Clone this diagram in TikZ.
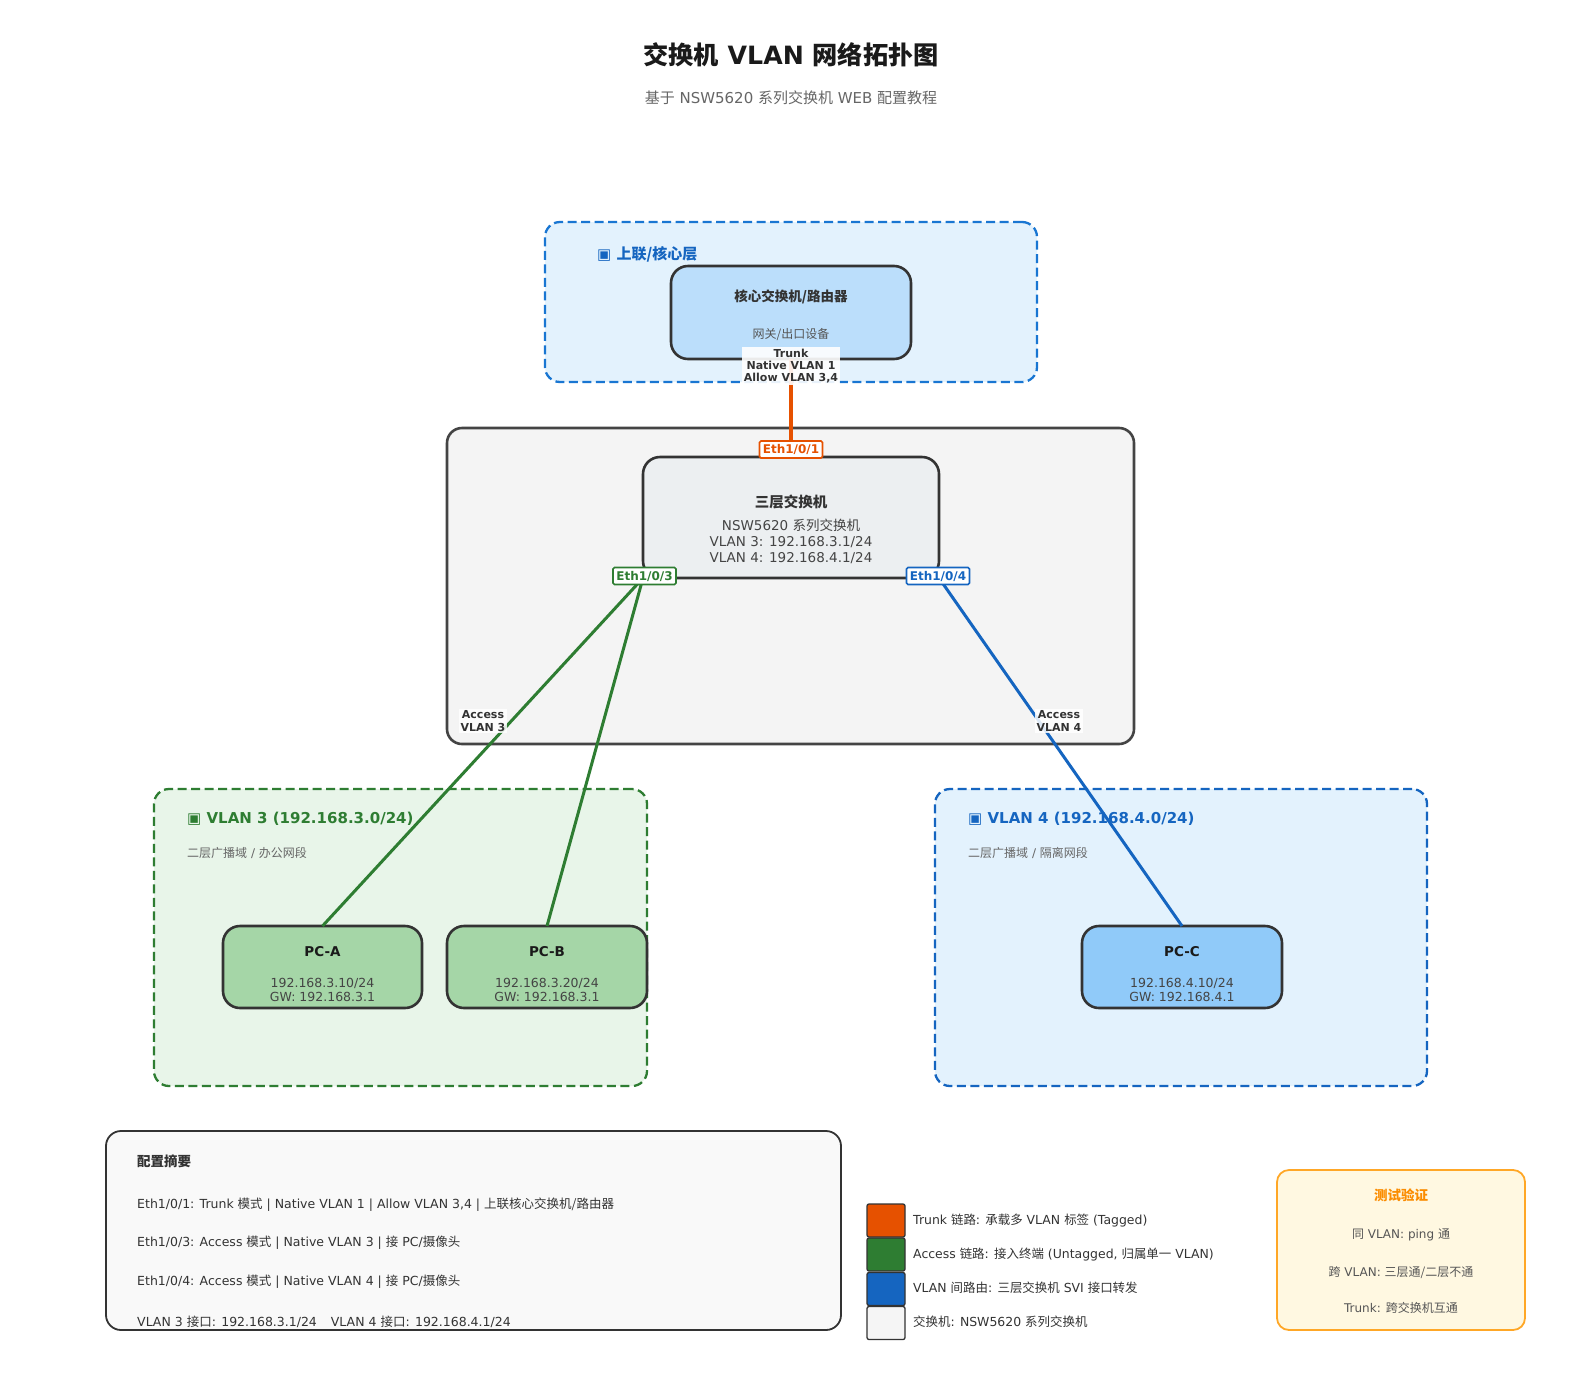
\documentclass[tikz,border=0pt]{standalone}
\usepackage{fontspec}
\setmainfont{DejaVu Sans}
\newfontfamily\cjk{Noto Sans CJK SC}
\newcommand\zh[1]{{\cjk #1}}
\newcommand\fs[2]{\fontsize{#1}{#2}\selectfont}
\definecolor{trunkc}{HTML}{E65100}
\definecolor{accc}{HTML}{2E7D32}
\definecolor{vlfour}{HTML}{1565C0}
\definecolor{uplc}{HTML}{1976D2}
\definecolor{upfill}{HTML}{E3F2FD}
\definecolor{corefill}{HTML}{BBDEFB}
\definecolor{grpfill}{HTML}{F4F4F4}
\definecolor{grpedge}{HTML}{444444}
\definecolor{swfill}{HTML}{ECEFF1}
\definecolor{vthreefill}{HTML}{E8F5E9}
\definecolor{pcgreen}{HTML}{A5D6A7}
\definecolor{pcblue}{HTML}{90CAF9}
\definecolor{sumfill}{HTML}{F9F9F9}
\definecolor{testfill}{HTML}{FFF8E1}
\definecolor{testedge}{HTML}{FFA726}
\definecolor{testtitle}{HTML}{FB8C00}
\definecolor{darkc}{HTML}{333333}
\definecolor{txtc}{HTML}{444444}
\definecolor{grayc}{HTML}{666666}
\definecolor{midgray}{HTML}{555555}
\definecolor{titlec}{HTML}{1A1A1A}
\definecolor{legwhite}{HTML}{F5F5F5}
\begin{document}
\begin{tikzpicture}[x=1pt,y=-1pt,
  devbox/.style={draw=darkc, line width=2.6pt, rounded corners=17pt, inner sep=0pt, outer sep=0pt},
  grpbox/.style={line width=2.3pt, dash pattern=on 9pt off 4.5pt, rounded corners=15pt, inner sep=0pt, outer sep=0pt},
  portlbl/.style={draw, line width=1.6pt, fill=white, font=\bfseries\fs{12}{13}, inner sep=0pt, minimum width=63pt, minimum height=17pt, rounded corners=1.5pt},
  acclbl/.style={fill=white, fill opacity=0.85, text opacity=1, text=darkc, font=\bfseries\fs{11}{12.5}, align=center, inner sep=1.5pt},
  lnk/.style={line width=3pt},
  legsq/.style={draw=darkc, line width=1.3pt, minimum width=38pt, minimum height=33pt, inner sep=0pt, rounded corners=2pt},
  legtxt/.style={anchor=west, text=darkc, font=\fs{12.45}{14}, inner sep=0pt},
  sumtxt/.style={anchor=west, text=darkc, font=\fs{12.5}{14}, inner sep=0pt},
  testtxt/.style={text=midgray, font=\fs{12}{14}, inner sep=0pt}]
\useasboundingbox (0,0) rectangle (1582,1387);
\fill[white] (0,0) rectangle (1582,1387);

% title
\node[text=titlec, font=\bfseries\fs{25.2}{30}] (title) at (791,55) {\zh{交换机} VLAN \zh{网络拓扑图}};
\node[text=grayc, font=\fs{15}{18}] (subtitle) at (791,98) {\zh{基于} NSW5620 \zh{系列交换机} WEB \zh{配置教程}};

% group boxes
\node[grpbox, draw=uplc, fill=upfill, minimum width=492pt, minimum height=160pt] (uplink) at (791,302) {};
\node[draw=grpedge, fill=grpfill, line width=2.6pt, rounded corners=15pt, minimum width=687pt, minimum height=316pt, inner sep=0pt] (swgroup) at (790.5,586) {};
\node[grpbox, draw=accc, fill=vthreefill, minimum width=493pt, minimum height=297pt] (vlan3) at (400.5,937.5) {};
\node[grpbox, draw=vlfour, fill=upfill, minimum width=492pt, minimum height=297pt] (vlan4) at (1181,937.5) {};

% group titles
\node[anchor=west, text=vlfour, font=\bfseries\fs{15}{18}, inner sep=0pt] (uplbl) at (597,254) {▣ \zh{上联/核心层}};
\node[anchor=west, text=accc, font=\bfseries\fs{15}{18}, inner sep=0pt] (v3lbl) at (187,819) {▣ VLAN 3 (192.168.3.0/24)};
\node[anchor=west, text=grayc, font=\fs{12}{14}, inner sep=0pt] (v3sub) at (187,853) {\zh{二层广播域} / \zh{办公网段}};
\node[anchor=west, text=vlfour, font=\bfseries\fs{15}{18}, inner sep=0pt] (v4lbl) at (968,819) {▣ VLAN 4 (192.168.4.0/24)};
\node[anchor=west, text=grayc, font=\fs{12}{14}, inner sep=0pt] (v4sub) at (968,853) {\zh{二层广播域} / \zh{隔离网段}};

% devices
\node[devbox, fill=corefill, minimum width=240pt, minimum height=93pt] (core) at (791,312.5) {};
\node[font=\bfseries\fs{13.5}{16}, text=darkc] (coret) at (791,297) {\zh{核心交换机/路由器}};
\node[font=\fs{12}{14}, text=midgray] (cores) at (791,335) {\zh{网关/出口设备}};

\node[devbox, fill=swfill, minimum width=296pt, minimum height=121pt] (sw) at (791,517.5) {};
\node[font=\bfseries\fs{14.5}{17}, text=darkc] (swt) at (791,501.5) {\zh{三层交换机}};
\node[font=\fs{13.5}{16}, text=txtc] (sws1) at (791,525) {NSW5620 \zh{系列交换机}};
\node[font=\fs{13.5}{16}, text=txtc] (sws2) at (791,542) {VLAN 3: 192.168.3.1/24};
\node[font=\fs{13.5}{16}, text=txtc] (sws3) at (791,558) {VLAN 4: 192.168.4.1/24};

\node[devbox, fill=pcgreen, minimum width=199pt, minimum height=82pt] (pca) at (322.5,967) {};
\node[font=\bfseries\fs{13.5}{16}, text=titlec] (pcat) at (322.5,952) {PC-A};
\node[font=\fs{12.5}{14}, text=txtc, align=center] (pcas) at (322.5,990) {192.168.3.10/24\\GW: 192.168.3.1};

\node[devbox, fill=pcgreen, minimum width=200pt, minimum height=82pt] (pcb) at (547,967) {};
\node[font=\bfseries\fs{13.5}{16}, text=titlec] (pcbt) at (547,952) {PC-B};
\node[font=\fs{12.5}{14}, text=txtc, align=center] (pcbs) at (547,990) {192.168.3.20/24\\GW: 192.168.3.1};

\node[devbox, fill=pcblue, minimum width=200pt, minimum height=82pt] (pcc) at (1182,967) {};
\node[font=\bfseries\fs{13.5}{16}, text=titlec] (pcct) at (1182,952) {PC-C};
\node[font=\fs{12.5}{14}, text=txtc, align=center] (pccs) at (1182,990) {192.168.4.10/24\\GW: 192.168.4.1};

% connectors
\draw[trunkc, line width=3.6pt] (core.south) -- (sw.north);
\draw[lnk, accc] (sw.south west) -- (pca.north);
\draw[lnk, accc] (sw.south west) -- (pcb.north);
\draw[lnk, vlfour] (sw.south east) -- (pcc.north);

% link labels
\node[fill=white, fill opacity=0.9, text opacity=1, text=darkc, font=\bfseries\fs{11}{11.6}, align=center, inner sep=2pt] (trunklbl) at (791,366) {Trunk\\Native VLAN 1\\Allow VLAN 3,4};
\node[portlbl, draw=trunkc, text=trunkc, fill=white] (p1) at (791,449.5) {Eth1/0/1};
\node[portlbl, draw=accc, text=accc] (p3) at (644.5,576) {Eth1/0/3};
\node[portlbl, draw=vlfour, text=vlfour] (p4) at (938,576) {Eth1/0/4};
\node[acclbl] (acc3) at (483,721) {Access\\VLAN 3};
\node[acclbl] (acc4) at (1059,721) {Access\\VLAN 4};

% summary
\node[draw=darkc, fill=sumfill, line width=1.8pt, rounded corners=15pt, minimum width=735pt, minimum height=199pt, inner sep=0pt] (summary) at (473.5,1230.5) {};
\node[anchor=west, text=darkc, font=\bfseries\fs{13.5}{16}, inner sep=0pt] (sumt) at (137,1161) {\zh{配置摘要}};
\node[sumtxt] (sum1) at (137,1205) {Eth1/0/1: Trunk \zh{模式} | Native VLAN 1 | Allow VLAN 3,4 | \zh{上联核心交换机/路由器}};
\node[sumtxt] (sum2) at (137,1243) {Eth1/0/3: Access \zh{模式} | Native VLAN 3 | \zh{接} PC/\zh{摄像头}};
\node[sumtxt] (sum3) at (137,1282) {Eth1/0/4: Access \zh{模式} | Native VLAN 4 | \zh{接} PC/\zh{摄像头}};
\node[sumtxt] (sum4) at (137,1322) {VLAN 3 \zh{接口}: 192.168.3.1/24\hspace{14pt}VLAN 4 \zh{接口}: 192.168.4.1/24};

% legend
\node[legsq, fill=trunkc] (lg1) at (886,1220.5) {};
\node[legsq, fill=accc] (lg2) at (886,1254.5) {};
\node[legsq, fill=vlfour] (lg3) at (886,1289) {};
\node[legsq, fill=legwhite] (lg4) at (886,1323) {};
\node[legtxt] (lgt1) at (913,1221) {Trunk \zh{链路}: \zh{承载多} VLAN \zh{标签} (Tagged)};
\node[legtxt] (lgt2) at (913,1255) {Access \zh{链路}: \zh{接入终端} (Untagged, \zh{归属单一} VLAN)};
\node[legtxt] (lgt3) at (913,1288) {VLAN \zh{间路由}: \zh{三层交换机} SVI \zh{接口转发}};
\node[legtxt] (lgt4) at (913,1322) {\zh{交换机}: NSW5620 \zh{系列交换机}};

% test box
\node[draw=testedge, fill=testfill, line width=1.8pt, rounded corners=12pt, minimum width=248pt, minimum height=160pt, inner sep=0pt] (testbox) at (1401,1250) {};
\node[text=testtitle, font=\bfseries\fs{13.5}{16}, inner sep=0pt] (testt) at (1401,1195) {\zh{测试验证}};
\node[testtxt] (test1) at (1401,1235) {\zh{同} VLAN: ping \zh{通}};
\node[testtxt] (test2) at (1401,1273) {\zh{跨} VLAN: \zh{三层通/二层不通}};
\node[testtxt] (test3) at (1401,1308) {Trunk: \zh{跨交换机互通}};
\end{tikzpicture}
\end{document}
